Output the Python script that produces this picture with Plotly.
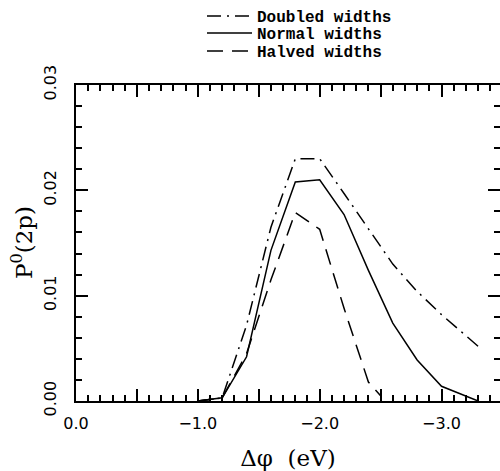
import plotly.graph_objects as go

# Data (x = Δφ in eV, y = P0(2p))
x_doubled = [-1.0, -1.2, -1.4, -1.6, -1.8, -2.0, -2.2, -2.4, -2.6, -2.8, -3.0, -3.2, -3.3]
y_doubled = [0.0, 0.0003, 0.0072, 0.0165, 0.0230, 0.0230, 0.0197, 0.0164, 0.0130, 0.0104, 0.0082, 0.0062, 0.0052]

x_normal = [-1.0, -1.2, -1.4, -1.6, -1.8, -2.0, -2.2, -2.4, -2.6, -2.8, -3.0, -3.2, -3.3]
y_normal = [0.0, 0.0003, 0.0042, 0.0143, 0.0208, 0.0210, 0.0177, 0.0124, 0.0074, 0.0039, 0.0014, 0.0005, 0.0]

x_halved = [-1.0, -1.2, -1.4, -1.6, -1.8, -2.0, -2.2, -2.4, -2.5]
y_halved = [0.0, 0.0003, 0.0045, 0.0115, 0.0179, 0.0163, 0.0088, 0.0018, 0.0005]

series_names = ["Doubled widths", "Normal widths", "Halved widths"]

x_tickvals = [0.0, -0.5, -1.0, -1.5, -2.0, -2.5, -3.0]
x_ticktext = ["0.0", "", "\u22121.0", "", "\u22122.0", "", "\u22123.0"]
y_tickvals = [0.0, 0.01, 0.02, 0.03]
y_ticktext = ["0.00", "0.01", "0.02", "0.03"]

x_title = "\u0394\u03c6  (eV)"
y_title = "P<sup>0</sup>(2p)"

fig = go.Figure()
fig.add_trace(go.Scatter(x=x_doubled, y=y_doubled, mode="lines", name=series_names[0], legend="legend",
                         line=dict(color="black", width=1.5, dash="14px,6px,2px,6px")))
fig.add_trace(go.Scatter(x=x_normal, y=y_normal, mode="lines", name=series_names[1], legend="legend2",
                         line=dict(color="black", width=1.5)))
fig.add_trace(go.Scatter(x=x_halved, y=y_halved, mode="lines", name=series_names[2], legend="legend3",
                         line=dict(color="black", width=1.5, dash="16px,9px")))

tickfont = dict(family="DejaVu Sans", size=16, color="black")
titlefont = dict(family="DejaVu Serif", size=23, color="black")
legfont = dict(family="Liberation Mono", size=16, color="black", weight="bold")


def leg(ypix):
    return dict(
        xref="container", yref="container",
        x=202 / 500, y=1 - ypix / 471, xanchor="left", yanchor="middle",
        font=legfont, bgcolor="rgba(0,0,0,0)", itemwidth=45,
    )


fig.update_layout(
    width=500, height=471,
    margin=dict(l=76, r=0, t=85, b=70, autoexpand=False),
    paper_bgcolor="white", plot_bgcolor="white",
    showlegend=True,
    legend=leg(16), legend2=leg(33), legend3=leg(51),
    xaxis=dict(
        range=[0, -3.48], autorange=False, automargin=False,
        showline=True, linecolor="black", linewidth=2, mirror="allticks",
        ticks="inside", ticklen=12, tickwidth=1.5, tickcolor="black",
        tickvals=x_tickvals, ticktext=x_ticktext, tickfont=tickfont, tickangle=0,
        ticklabelstandoff=7,
        minor=dict(ticks="inside", ticklen=6, tickwidth=1.5, tickcolor="black", dtick=0.1, showgrid=False),
        showgrid=False, zeroline=False,
        title=dict(text=x_title, font=titlefont, standoff=18),
    ),
    yaxis=dict(
        range=[0, 0.03], autorange=False, automargin=False,
        showline=True, linecolor="black", linewidth=2, mirror="allticks",
        ticks="inside", ticklen=12, tickwidth=1.5, tickcolor="black",
        tickvals=y_tickvals, ticktext=y_ticktext, tickfont=tickfont, tickangle=-90,
        ticklabelstandoff=12,
        minor=dict(ticks="inside", ticklen=6, tickwidth=1.5, tickcolor="black", dtick=0.002, showgrid=False),
        showgrid=False, zeroline=False,
    ),
    annotations=[dict(
        text=y_title, xref="paper", yref="paper", x=(22 - 76) / 424, y=0.5,
        xanchor="center", yanchor="middle", textangle=-90, showarrow=False, font=titlefont,
    )],
)

fig.write_html("out.html")
